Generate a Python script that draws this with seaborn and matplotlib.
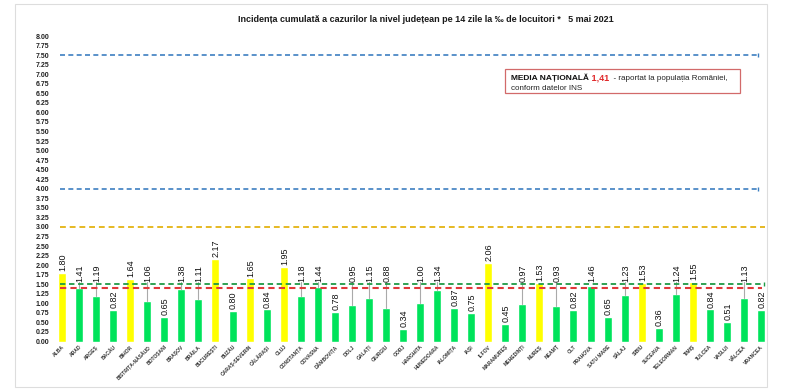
import numpy as np
import pandas as pd
import matplotlib.pyplot as plt
import seaborn as sns
from matplotlib.patches import Rectangle

# incidence per 1000 inhabitants, 14 days, 5 May 2021
counties = ["ALBA", "ARAD", "ARGEȘ", "BACĂU", "BIHOR", "BISTRIȚA-NĂSĂUD", "BOTOȘANI",
            "BRAȘOV", "BRĂILA", "BUCUREȘTI", "BUZĂU", "CARAȘ-SEVERIN", "CĂLĂRAȘI", "CLUJ",
            "CONSTANȚA", "COVASNA", "DÂMBOVIȚA", "DOLJ", "GALAȚI", "GIURGIU", "GORJ",
            "HARGHITA", "HUNEDOARA", "IALOMIȚA", "IAȘI", "ILFOV", "MARAMUREȘ", "MEHEDINȚI",
            "MUREȘ", "NEAMȚ", "OLT", "PRAHOVA", "SATU MARE", "SĂLAJ", "SIBIU", "SUCEAVA",
            "TELEORMAN", "TIMIȘ", "TULCEA", "VASLUI", "VÂLCEA", "VRANCEA"]
incidence = [1.80, 1.41, 1.19, 0.82, 1.64, 1.06, 0.65,
             1.38, 1.11, 2.17, 0.80, 1.65, 0.84, 1.95,
             1.18, 1.44, 0.78, 0.95, 1.15, 0.88, 0.34,
             1.00, 1.34, 0.87, 0.75, 2.06, 0.45, 0.97,
             1.53, 0.93, 0.82, 1.46, 0.65, 1.23, 1.53, 0.36,
             1.24, 1.55, 0.84, 0.51, 1.13, 0.82]
national_avg = 1.41
green_limit = 1.5
yellow_limit = 3.0
red_limits = [4.0, 7.5]

df = pd.DataFrame({"judet": counties, "incidenta": incidence})
df["grup"] = np.where(df["incidenta"] > green_limit, "peste", "sub")

sns.set_style("white")
plt.rcParams["font.family"] = ["Liberation Sans", "DejaVu Sans"]

fig = plt.figure(figsize=(8, 3.89), dpi=100)
ax = fig.add_axes([0.0669, 0.1221, 0.895, 0.7853])

sns.barplot(data=df, x="judet", y="incidenta", hue="grup",
            palette={"peste": "#FFFF00", "sub": "#00E35B"},
            width=0.47, dodge=False, legend=False, saturation=1, ax=ax)

ax.set_xlim(-0.5, len(counties) - 0.5)
ax.set_ylim(0, 8)
yt = np.arange(0, 8.01, 0.25)
ax.set_yticks(yt)
ax.set_yticklabels([f"{v:.2f}" for v in yt], fontsize=5, fontweight="bold", color="#222222")
ax.set_xticks(range(len(counties)))
ax.set_xticklabels(counties, rotation=45, ha="right", va="top", rotation_mode="anchor",
                   fontsize=3.6, fontweight="bold", color="#333333")
ax.tick_params(axis="both", length=0, pad=3)
ax.tick_params(axis="x", pad=2)
ax.set_xlabel("")
ax.set_ylabel("")
sns.despine(ax=ax, left=True, bottom=True)

# reference lines
for lvl in red_limits:
    ax.plot([-0.1, 40.8], [lvl, lvl], color="#3D7FC1", lw=1.2, dashes=(3, 2))
    ax.plot([40.85], [lvl], marker="|", color="#3D7FC1", ms=3, mew=1)
ax.plot([-0.1, 41.25], [yellow_limit] * 2, color="#E6B923", lw=1.4, dashes=(3, 2))
ax.plot([-0.1, 41.15], [green_limit] * 2, color="#1F9A45", lw=1.3, dashes=(3, 2))
ax.plot([41.2], [green_limit], marker="|", color="#1F9A45", ms=3, mew=1)
ax.plot([-0.1, 41.05], [national_avg] * 2, color="#E0383A", lw=1.5, dashes=(3, 2))

# value labels, lifted above the reference lines when they would clash
for i, v in enumerate(incidence):
    y = v + 0.05
    if v <= green_limit and v >= 0.88:
        y = max(y, 1.55)
        if y - v > 0.1:
            ax.plot([i, i], [v, y], color="#AAAAAA", lw=0.8, zorder=1)
    ax.text(i + 0.05, y, f"{v:.2f}", rotation=90, ha="center", va="bottom",
            fontsize=6.5, color="#111111")

fig.text(0.532, 1 - 20 / 389,
         "Incidența cumulată a cazurilor la nivel județean pe 14 zile la ‰ de locuitori *   5 mai 2021",
         ha="center", va="center", fontsize=6.5, fontweight="bold", color="#1A1A1A")

# national average box
fig.patches.append(Rectangle((505 / 800, 1 - 93 / 389), 235 / 800, 24 / 389,
                             transform=fig.transFigure, fill=False,
                             edgecolor="#D26A6A", lw=0.9))
t1 = fig.text(511 / 800, 1 - 80 / 389, "MEDIA NAȚIONALĂ", fontsize=6,
              fontweight="bold", color="#111111", va="baseline")
t2 = ax.annotate(" 1,41", xy=(1, 0), xycoords=t1, fontsize=6.5, fontweight="bold",
                 color="#E0282A", va="bottom")
ax.annotate("  - raportat la populația României,", xy=(1, 0), xycoords=t2,
            fontsize=5.8, color="#222222", va="bottom")
fig.text(511 / 800, 1 - 90 / 389, "conform datelor INS", fontsize=5.8,
         color="#222222", va="baseline")

# light frame around the picture
fig.patches.append(Rectangle((15 / 800, 2 / 389), 752 / 800, 383 / 389,
                             transform=fig.transFigure, fill=False,
                             edgecolor="#DDDDDD", lw=0.8))

fig.savefig("out.png", dpi=100)
